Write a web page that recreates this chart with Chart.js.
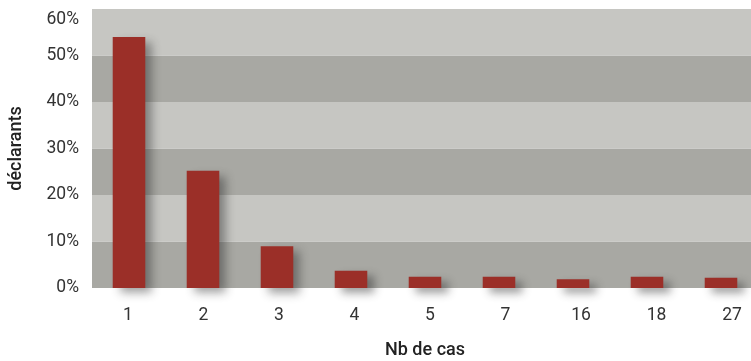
<!DOCTYPE html>
<html lang="fr">
<head>
<meta charset="utf-8">
<title>Nb de cas</title>
<script src="https://cdn.jsdelivr.net/npm/chart.js@4/dist/chart.umd.min.js"></script>
<style>
  html, body { margin: 0; padding: 0; background: #ffffff; overflow: hidden; }
  #wrap { width: 758px; height: 361px; }
</style>
</head>
<body>
<div id="wrap"><canvas id="chart" width="758" height="361"></canvas></div>
<script>
// Nombre de cas par déclarant (part des déclarants, en %)
const categories = ['1', '2', '3', '4', '5', '7', '16', '18', '27'];
const sharePct = [54.0, 25.2, 9.0, 3.7, 2.4, 2.4, 1.9, 2.4, 2.2];
const yTicks = [0, 10, 20, 30, 40, 50, 60];

const BAR_RED = '#9b2f28';
const BAND_LIGHT = '#c6c6c2';
const BAND_DARK = '#a8a8a3';
const FONT = 'Roboto, "Liberation Sans", sans-serif';

// Alternating horizontal bands between consecutive y ticks
const bandPlugin = {
  id: 'bands',
  beforeDatasetsDraw(chart) {
    const { ctx, chartArea, scales } = chart;
    const y = scales.y;
    ctx.save();
    for (let i = 0; i < yTicks.length - 1; i++) {
      const top = y.getPixelForValue(yTicks[i + 1]);
      const bottom = y.getPixelForValue(yTicks[i]);
      ctx.fillStyle = i % 2 === 0 ? BAND_DARK : BAND_LIGHT;
      ctx.fillRect(chartArea.left, top, chartArea.right - chartArea.left, bottom - top);
    }
    ctx.restore();
  }
};

// Soft drop shadow under the bars
const shadowPlugin = {
  id: 'barShadow',
  beforeDatasetsDraw(chart) {
    const ctx = chart.ctx;
    ctx.save();
    ctx.shadowColor = 'rgba(40, 40, 40, 0.45)';
    ctx.shadowBlur = 9;
    ctx.shadowOffsetX = 7;
    ctx.shadowOffsetY = 5;
  },
  afterDatasetsDraw(chart) {
    chart.ctx.restore();
  }
};

new Chart(document.getElementById('chart'), {
  type: 'bar',
  data: {
    labels: categories,
    datasets: [{
      data: sharePct,
      backgroundColor: BAR_RED,
      borderWidth: 0,
      categoryPercentage: 1.0,
      barPercentage: 0.44,
      clip: false
    }]
  },
  options: {
    responsive: false,
    animation: false,
    events: [],
    layout: { padding: { top: 9, right: 0, bottom: 0, left: 0 } },
    plugins: {
      legend: { display: false },
      tooltip: { enabled: false }
    },
    scales: {
      x: {
        grid: { display: false, drawTicks: false },
        border: { display: false },
        ticks: { display: false },
        afterFit(scale) { scale.height = 0; scale.paddingLeft = 0; scale.paddingRight = 0; }
      },
      // label axis: category names spaced slightly wider than the bars
      xl: {
        type: 'linear',
        position: 'bottom',
        bounds: 'data',
        offset: false,
        min: -0.477,
        max: 8.344,
        grid: { display: false, drawTicks: false, offset: false },
        border: { display: false },
        afterBuildTicks(scale) { scale.ticks = categories.map((_, i) => ({ value: i })); },
        ticks: {
          color: '#333333',
          padding: 17,
          font: { family: FONT, size: 17.5 },
          callback: (v) => categories[v]
        },
        title: {
          display: true,
          text: 'Nb de cas',
          color: '#222222',
          font: { family: FONT, size: 18, weight: '500' },
          padding: { top: 0, bottom: 0 }
        },
        afterFit(scale) { scale.height = 73; scale.paddingLeft = 0; scale.paddingRight = 0; }
      },
      y: {
        min: 0,
        max: 60,
        grid: { display: false, drawTicks: false },
        border: { display: false },
        ticks: {
          stepSize: 10,
          color: '#333333',
          padding: 13,
          font: { family: FONT, size: 17.5 },
          callback: (v) => (v === 60 ? ['', v + '%'] : v + '%')
        },
        title: {
          display: true,
          text: 'déclarants',
          color: '#222222',
          font: { family: FONT, size: 18, weight: '500' },
          padding: { top: 6, bottom: 0 }
        },
        afterFit(scale) { scale.width = 92; scale.paddingTop = 0; scale.paddingBottom = 0; }
      }
    }
  },
  plugins: [bandPlugin, shadowPlugin]
});
</script>
</body>
</html>
